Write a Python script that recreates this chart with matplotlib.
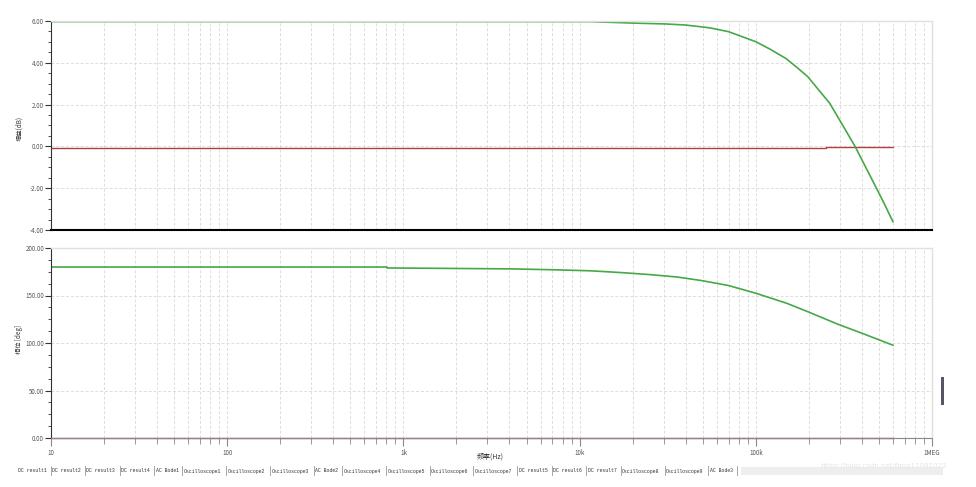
import numpy as np
import matplotlib
matplotlib.use("Agg")
import matplotlib.pyplot as plt
from matplotlib.ticker import FixedLocator, NullFormatter, AutoMinorLocator, FormatStrFormatter
from matplotlib.patches import Rectangle

plt.rcParams['font.family'] = ['Noto Sans CJK SC', 'DejaVu Sans']

# ============================================================
# DONNÉES
# ============================================================
gain_freq = [10, 1000, 11500, 20000, 30500, 39600, 48000, 55000, 70000, 100000,
             120000, 148000, 170000, 197000, 225000, 263000, 300000, 366000,
             420000, 484000, 540000, 600000]
gain_db = [5.97, 5.97, 5.97, 5.90, 5.86, 5.81, 5.73, 5.67, 5.49, 5.01,
           4.66, 4.21, 3.80, 3.34, 2.75, 2.06, 1.24, 0.0,
           -0.99, -2.0, -2.80, -3.6]

gain_ref_freq = [10, 250000, 250000, 600000]
gain_ref_db = [-0.08, -0.08, -0.03, -0.03]

phase_freq = [10, 807, 807, 4190, 7440, 11500, 14300, 17600, 25000, 35700,
              50000, 70000, 100000, 150000, 197000, 250000, 290000,
              400000, 500000, 600000]
phase_deg = [180, 180, 179, 178, 177, 176, 175, 174, 172, 169.5,
             165.5, 160.5, 152.4, 141.8, 133.0, 125.0, 120.0,
             110.3, 103.4, 97.7]

phase_ref_freq = [10, 600000]
phase_ref_deg = [0, 0]

x_ticks = [10, 100, 1e3, 1e4, 1e5, 1e6]
x_labels = ['10', '100', '1k', '10k', '100k', '1MEG']

tabs = ['DC result1', 'DC result2', 'DC result3', 'DC result4', 'AC Bode1',
        'Oscilloscope1', 'Oscilloscope2', 'Oscilloscope3', 'AC Bode2',
        'Oscilloscope4', 'Oscilloscope5', 'Oscilloscope6', 'Oscilloscope7',
        'DC result5', 'DC result6', 'DC result7', 'Oscilloscope8',
        'Oscilloscope9', 'AC Bode3']

# ============================================================
# FIGURE
# ============================================================
W, H = 976, 487
fig = plt.figure(figsize=(W / 100, H / 100), dpi=100)
fig.patch.set_facecolor('white')

GREEN = '#46a846'
RED = '#b04040'
GRID = '#dddddd'
TICKC = '#555555'


def fig_rect(x0, y0, x1, y1):
    return [x0 / W, 1 - y1 / H, (x1 - x0) / W, (y1 - y0) / H]


def style_axes(ax):
    ax.set_xscale('log')
    ax.set_xlim(10, 1e6)
    ax.xaxis.set_major_locator(FixedLocator(x_ticks))
    ax.xaxis.set_minor_locator(FixedLocator(
        [m * 10 ** e for e in range(1, 6) for m in range(2, 10)]))
    ax.grid(True, which='both', axis='x', color=GRID, linestyle=(0, (3, 2)), linewidth=0.7)
    ax.grid(True, which='major', axis='y', color=GRID, linestyle=(0, (3, 2)), linewidth=0.7)
    ax.yaxis.set_minor_locator(AutoMinorLocator(4))
    ax.yaxis.set_major_formatter(FormatStrFormatter('%.2f'))
    ax.tick_params(axis='y', which='major', length=4, width=0.8, color='#333333',
                   labelsize=4.5, labelcolor=TICKC, pad=1)
    ax.tick_params(axis='y', which='minor', length=2.5, width=0.6, color='#333333')
    for s in ['top', 'right']:
        ax.spines[s].set_color('#e0e0e0')
        ax.spines[s].set_linewidth(1.0)
    ax.spines['left'].set_color('#333333')
    ax.spines['left'].set_linewidth(0.8)
    ax.set_axisbelow(True)


# --- gain ---
ax1 = fig.add_axes(fig_rect(51, 21, 932, 230))
style_axes(ax1)
ax1.set_ylim(-4, 6)
ax1.set_yticks([6, 4, 2, 0, -2, -4])
ax1.tick_params(axis='x', which='both', length=0, labelbottom=False)
ax1.spines['bottom'].set_color('black')
ax1.spines['bottom'].set_linewidth(1.5)
ax1.plot(gain_ref_freq, gain_ref_db, color=RED, linewidth=1.0)
ax1.plot(gain_freq, gain_db, color=GREEN, linewidth=1.2)
fig.text(19 / W, 1 - 128 / H, '增益(dB)', fontsize=4.5, color='#333333',
         rotation=90, ha='center', va='center')

# --- phase ---
ax2 = fig.add_axes(fig_rect(51, 248, 932, 438))
style_axes(ax2)
ax2.set_ylim(0, 200)
ax2.set_yticks([0, 50, 100, 150, 200])
ax2.spines['bottom'].set_color('#888888')
ax2.spines['bottom'].set_linewidth(0.8)
ax2.tick_params(axis='x', which='major', length=6, width=0.8, color='#888888',
                labelsize=4.5, labelcolor=TICKC, pad=2)
ax2.tick_params(axis='x', which='minor', length=4, width=0.6, color='#888888')
ax2.xaxis.set_minor_formatter(NullFormatter())
ax2.set_xticklabels(x_labels)
ax2.plot(phase_ref_freq, phase_ref_deg, color=RED, linewidth=1.0, clip_on=False)
ax2.plot(phase_freq, phase_deg, color=GREEN, linewidth=1.2)
fig.text(19 / W, 1 - 340 / H, '相位 [deg]', fontsize=4.5, color='#333333',
         rotation=90, ha='center', va='center')
fig.text(490 / W, 1 - 457 / H, '频率(Hz)', fontsize=5, color='#333333',
         ha='center', va='center')

# --- onglets en bas ---
fig.patches.append(Rectangle((741 / W, 1 - 475 / H), (943 - 741) / W, 8 / H,
                             transform=fig.transFigure, facecolor='#eeeeee',
                             edgecolor='none'))
x = 16
for i, t in enumerate(tabs):
    w = len(t) * 3.1 + 3.5
    fig.text((x + 1.5) / W, 1 - 471 / H, t, fontsize=3.5, family='Liberation Mono',
             color='#333333', va='center', ha='left')
    fig.add_artist(plt.Line2D([(x + w) / W] * 2, [1 - 475 / H, 1 - 466 / H],
                              color='#999999', linewidth=0.6))
    x += w

fig.text(820 / W, 1 - 466 / H, 'https://blog.csdn.net/fang11081023', fontsize=5,
         family='DejaVu Sans', color='#e4e4e4', va='center', ha='left')

# petite barre de défilement à droite
fig.patches.append(Rectangle((941 / W, 1 - 405 / H), 3 / W, 28 / H,
                             transform=fig.transFigure, facecolor='#555566',
                             edgecolor='none'))

plt.savefig('out.png', dpi=100)
plt.close()
